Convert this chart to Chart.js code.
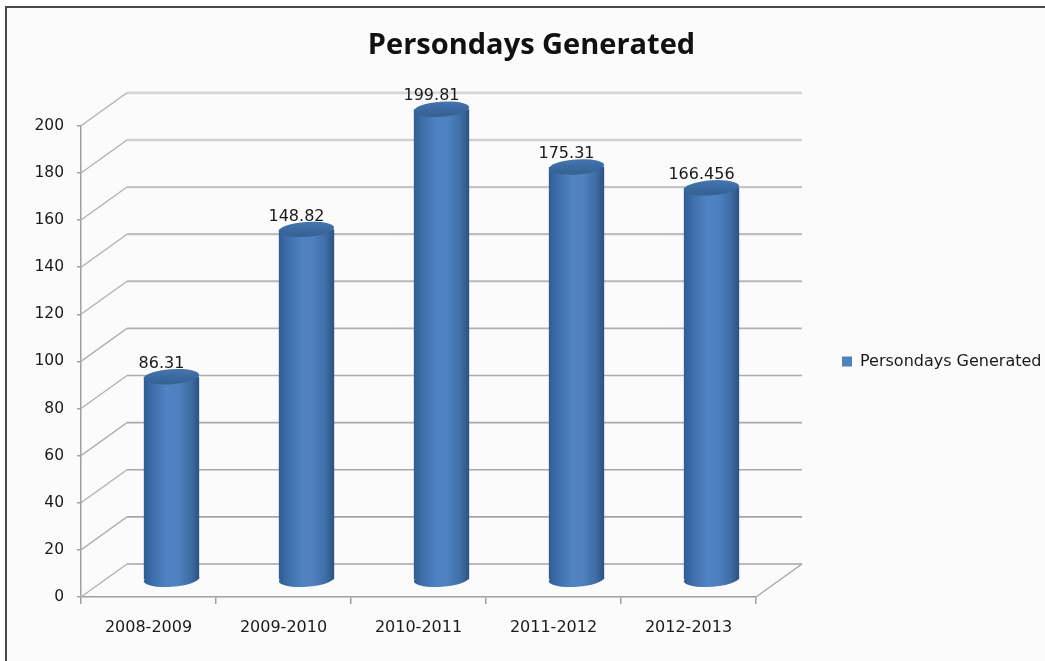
<!DOCTYPE html>
<html><head><meta charset="utf-8">
<style>
html,body{margin:0;padding:0;background:#fff;width:1045px;height:661px;overflow:hidden}
#w{position:absolute;left:0;top:0;width:1045px;height:661px}
canvas{filter:blur(0.55px)}
</style>
<script src="https://cdn.jsdelivr.net/npm/chart.js@4"></script>
</head><body><div id="w"><canvas id="c" width="1045" height="661"></canvas></div>
<script>
const categories=["2008-2009","2009-2010","2010-2011","2011-2012","2012-2013"];
const seriesName="Persondays Generated";
const values=[86.31,148.82,199.81,175.31,166.456];
const valueLabels=["86.31","148.82","199.81","175.31","166.456"];

const DX=46,DY=-33,BX=23,BY=-17,RY=7.5,TILT=-0.07;
const BLUE='#4f81bd';
function barGrad(ctx,x,w){
  const g=ctx.createLinearGradient(x-w/2,0,x+w/2,0);
  g.addColorStop(0,'#2f5d94');g.addColorStop(0.12,'#3a6ba6');g.addColorStop(0.42,'#5083c3');
  g.addColorStop(0.62,'#4f81bf');g.addColorStop(0.85,'#3e6da6');g.addColorStop(1,'#2c527f');
  return g;
}
const scene={
  id:'scene',
  beforeDraw(chart){
    const c=chart.ctx;c.save();
    c.fillStyle='#fbfbfb';c.fillRect(6,7,1039,654);
    c.fillStyle='#4a4a4a';c.fillRect(5,6,1040,2);c.fillRect(5,6,2,655);
    c.restore();
  },
  beforeDatasetsDraw(chart){
    const c=chart.ctx,{x,y}=chart.scales,a=chart.chartArea;
    c.save();
    y.ticks.forEach(t=>{
      const p=y.getPixelForValue(t.value),k=t.value/200;
      const v=Math.round(165+50*k*k);
      c.strokeStyle=`rgb(${v},${v},${v})`;c.lineWidth=1.5+1.2*k*k;
      c.beginPath();c.moveTo(a.left+DX,p+DY);c.lineTo(a.right+DX,p+DY);c.stroke();
      c.lineWidth=1.3;c.strokeStyle='#b0b0b0';
      c.beginPath();c.moveTo(a.left,p);c.lineTo(a.left+DX,p+DY);c.stroke();
    });
    c.strokeStyle='#a8a8a8';c.lineWidth=1.5;
    c.beginPath();c.moveTo(a.right,a.bottom);c.lineTo(a.right+DX,a.bottom+DY);c.stroke();
    c.restore();
  },
  beforeDatasetDraw(chart,args){
    const c=chart.ctx,meta=args.meta;
    c.save();c.translate(BX,BY);
    meta.data.forEach(b=>{
      c.fillStyle=barGrad(c,b.x,b.width);
      c.beginPath();c.ellipse(b.x,b.base,b.width/2,RY,TILT,0,Math.PI*2);c.fill();
    });
  },
  afterDatasetDraw(chart,args){
    const c=chart.ctx,meta=args.meta;
    meta.data.forEach((b,i)=>{
      c.save();
      c.font='16px "DejaVu Sans"';c.fillStyle='#1a1a1a';c.textAlign='center';c.textBaseline='middle';
      c.fillText(valueLabels[i],b.x-10,b.y-13);
      const g=c.createLinearGradient(0,b.y-RY,0,b.y+RY);
      g.addColorStop(0,'#4775ac');g.addColorStop(0.5,'#3b6aa2');g.addColorStop(1,'#35618f');
      c.fillStyle=g;
      c.beginPath();c.ellipse(b.x,b.y,b.width/2,RY,TILT,0,Math.PI*2);c.fill();
      c.restore();
    });
    c.restore();
  }
};
new Chart(document.getElementById('c'),{
  type:'bar',
  data:{labels:categories,datasets:[{
    label:seriesName,data:values,clip:false,
    barPercentage:0.41,categoryPercentage:1,borderWidth:0,
    backgroundColor(ctx){
      const s=ctx.chart.scales&&ctx.chart.scales.x;
      if(!(ctx.dataIndex>=0)||ctx.type!=='data'||!s)return BLUE;
      const x=s.getPixelForValue(ctx.dataIndex),w=(s.right-s.left)/categories.length*0.41;
      if(!Number.isFinite(x)||!Number.isFinite(w))return BLUE;
      return barGrad(ctx.chart.ctx,x,w);
    }
  }]},
  plugins:[scene],
  options:{
    responsive:false,animation:false,
    layout:{padding:{left:18,right:0,top:0,bottom:0}},
    plugins:{
      title:{display:true,text:seriesName,color:'#111',
        font:{family:'"Open Sans"',size:29,weight:'bold'},padding:{top:28,bottom:63}},
      legend:{position:'right',fullSize:false,maxWidth:207,labels:{boxWidth:10,boxHeight:10,padding:4,color:'#1a1a1a',
        font:{family:'"DejaVu Sans"',size:16},
        generateLabels(chart){
          return Chart.defaults.plugins.legend.labels.generateLabels(chart).map(l=>Object.assign(l,{fillStyle:BLUE,strokeStyle:BLUE,lineWidth:0}));
        }}},
      tooltip:{enabled:false}
    },
    scales:{
      x:{offset:true,
        grid:{drawOnChartArea:false,drawTicks:true,tickLength:7,color:'#a0a0a0',lineWidth:1.5},
        border:{color:'#a0a0a0',width:1.5},
        ticks:{color:'#1a1a1a',padding:14,maxRotation:0,font:{family:'"DejaVu Sans"',size:16}},
        afterFit(s){s.height=64;}},
      y:{min:0,max:200,
        grid:{drawOnChartArea:false,drawTicks:true,tickLength:4,color:'#a0a0a0',lineWidth:1.5},
        border:{color:'#a0a0a0',width:1.5},
        ticks:{stepSize:20,color:'#1a1a1a',padding:13,font:{family:'"DejaVu Sans"',size:15.5}},
        afterFit(s){s.width=63;}},
      spacer:{position:'right',display:true,min:0,max:1,
        grid:{display:false},border:{display:false},ticks:{display:false},
        afterFit(s){s.width=82;}}
    }
  }
});
</script></body></html>
